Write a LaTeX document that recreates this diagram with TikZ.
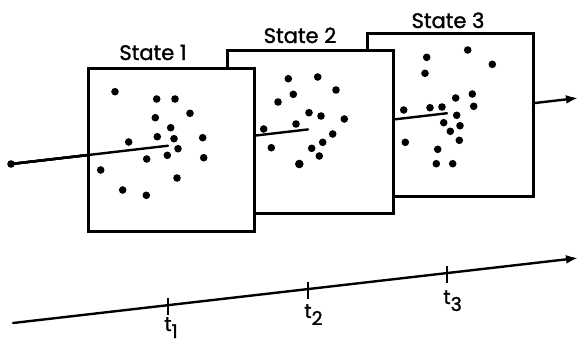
\documentclass[tikz,border=0pt]{standalone}
\usepackage{fontspec}
\setmainfont{Poppins}
\newfontfamily\letterfont{Poppins}[FakeBold=1.4]
\usetikzlibrary{arrows.meta,calc}

\tikzset{
  frame/.style={draw, fill=white, line width=2.5pt, rectangle,
    minimum width=166pt, minimum height=163pt, inner sep=0pt, anchor=north west},
  path line/.style={line width=2.4pt, line cap=round},
  tip/.style={-{Latex[length=12pt,width=9pt]}},
  title/.style={anchor=base, inner sep=0pt, font=\letterfont\fontsize{21}{21}\selectfont},
  ticklabel/.style={anchor=north, inner sep=0pt, font=\letterfont\fontsize{20}{20}\selectfont},
  tickmark/.style={line width=2.2pt},
  dot/.style={radius=3.8pt},
}
\newcommand{\tsub}[1]{t\rlap{\raisebox{-7pt}{\fontsize{19}{19}\selectfont #1}}}

\begin{document}
\begin{tikzpicture}[x=1pt, y=-1pt]
\useasboundingbox (0,0) rectangle (579,341);

% trajectory through the three frames
\coordinate (start) at (11,164);
\coordinate (end) at (578,98);
\coordinate (c1) at ($(start)!0.2769!(end)$);
\coordinate (c2) at ($(start)!0.5238!(end)$);
\coordinate (c3) at ($(start)!0.7690!(end)$);

\draw[path line, tip] (start) -- (end);
\fill (start) circle (3.8pt);

% frame 3 (back)
\node[frame] (s3) at (366,32) {};
\foreach \p in {(467.7,50),(426.7,57.3),(492.3,64.3),(425,73.3),(472.3,94),
  (455.7,98),(473.7,106.3),(403.7,110),(430,107.7),(442,107),(456.7,115.3),
  (443.7,122.7),(460,125.7),(450.3,131.3),(459.3,140.3),(405.3,142.3),
  (437.7,149.3),(436.3,163.7),(452.7,163.7)}
  \fill[dot] \p circle;
\draw[path line] (start) -- (c3);

% frame 2 (middle)
\node[frame] (s2) at (226,49) {};
\foreach \p in {(288.3,78.7),(317.7,77),(336,90),(293.3,94.3),(278,102),
  (309,112.7),(321,116),(344.3,119),(263.7,129),(296,124),(332.7,134),
  (322.7,142.3),(271.3,147.7),(311.7,148.3),(319.3,156)}
  \fill[dot] \p circle;
\fill (299.3,164) circle (4.3pt);
\draw[path line] (start) -- (c2);

% frame 1 (front)
\node[frame] (s1) at (87,67) {};
\foreach \p in {(115,91.7),(156.7,99),(175,99),(190,113.3),(155.3,117.7),
  (170.7,127.7),(157.3,136.7),(174,138.7),(202.7,137.7),(128.7,142),
  (178,148.7),(167.3,155.3),(146.7,159),(203.7,157.7),(100.7,170),
  (177,178),(122.7,190),(146.3,195.3)}
  \fill[dot] \p circle;
\draw[path line] (start) -- (c1);

% frame titles
\node[title] (n1) at (153,60) {State 1};
\node[title] (n2) at (300,43) {State 2};
\node[title] (n3) at (448,28) {State 3};

% time axis
\coordinate (a0) at (13,323);
\coordinate (a1) at (578,258);
\draw[path line, tip] (a0) -- (a1);
\coordinate (k1) at ($(a0)!0.2743!(a1)$);
\coordinate (k2) at ($(a0)!0.5221!(a1)$);
\coordinate (k3) at ($(a0)!0.7681!(a1)$);
\foreach \k in {k1,k2,k3}
  \draw[tickmark] ($(\k)+(0,-7)$) -- ($(\k)+(0,10)$);

\node[ticklabel] (l1) at ($(k1)+(0,12)$) {\tsub{1}};
\node[ticklabel] (l2) at ($(k2)+(0,15)$) {\tsub{2}};
\node[ticklabel] (l3) at ($(k3)+(0,17)$) {\tsub{3}};
\end{tikzpicture}
\end{document}
